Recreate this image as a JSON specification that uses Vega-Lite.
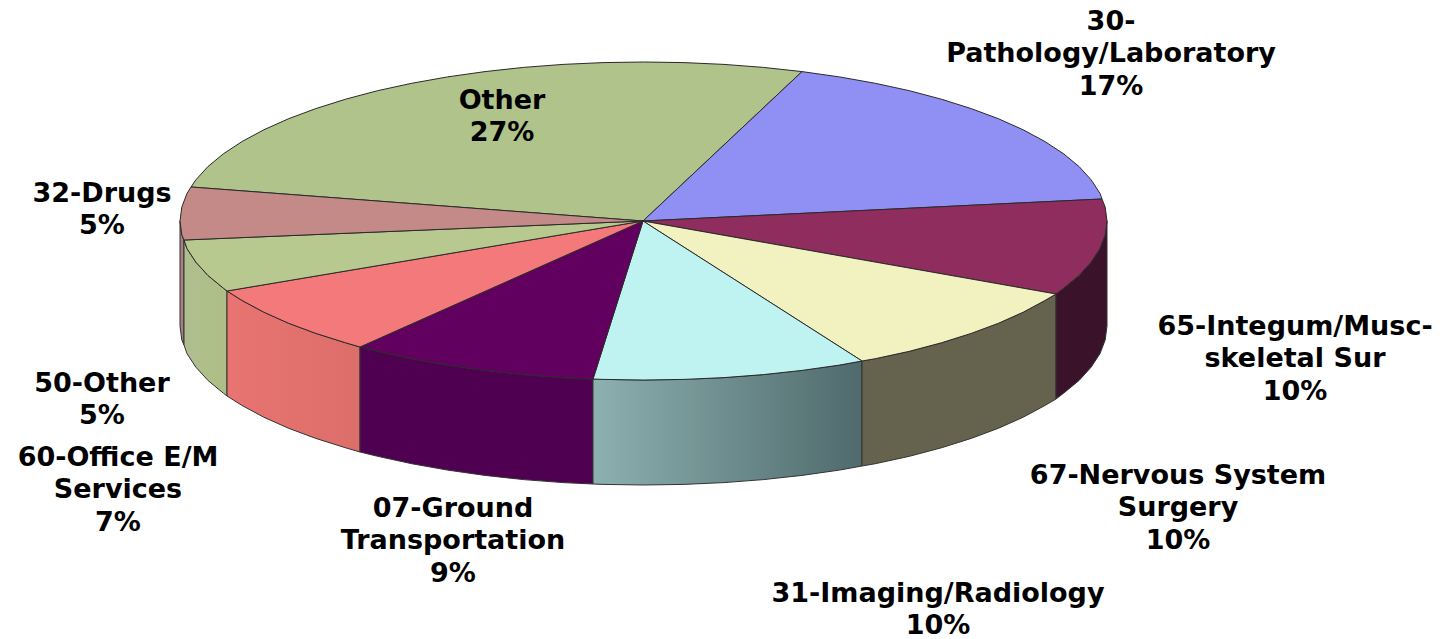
{"$schema":"https://vega.github.io/schema/vega-lite/v6.json","width":1447,"height":639,"padding":0,"autosize":{"type":"fit","contains":"padding"},"background":"white","config":{"view":{"stroke":null}},
"datasets":{
"walls":[
{"slice":"Drugs","x":180,"y":221,"yb":326},{"slice":"Drugs","x":181.8,"y":234.9,"yb":339.9},{"slice":"Drugs","x":184,"y":240,"yb":345},
{"slice":"Other50","x":184,"y":240,"yb":345},{"slice":"Other50","x":187,"y":248.6,"yb":353.6},{"slice":"Other50","x":195.8,"y":262.1,"yb":367.1},{"slice":"Other50","x":207.9,"y":275.4,"yb":380.4},{"slice":"Other50","x":223.4,"y":288.2,"yb":393.2},{"slice":"Other50","x":227,"y":291,"yb":396},
{"slice":"Office","x":227,"y":291,"yb":396},{"slice":"Office","x":242.1,"y":300.5,"yb":405.5},{"slice":"Office","x":263.8,"y":312.2,"yb":417.2},{"slice":"Office","x":288.4,"y":323.2,"yb":428.2},{"slice":"Office","x":315.8,"y":333.4,"yb":438.4},{"slice":"Office","x":345.6,"y":342.8,"yb":447.8},{"slice":"Office","x":360,"y":347,"yb":452},
{"slice":"Ground","x":360,"y":347,"yb":452},{"slice":"Ground","x":377.6,"y":351.3,"yb":456.3},{"slice":"Ground","x":411.7,"y":358.7,"yb":463.7},{"slice":"Ground","x":447.6,"y":365.1,"yb":470.1},{"slice":"Ground","x":485,"y":370.4,"yb":475.4},{"slice":"Ground","x":523.5,"y":374.6,"yb":479.6},{"slice":"Ground","x":563,"y":377.6,"yb":482.6},{"slice":"Ground","x":593,"y":379,"yb":484},
{"slice":"Imaging","x":593,"y":379,"yb":484},{"slice":"Imaging","x":603.1,"y":379.4,"yb":484.4},{"slice":"Imaging","x":643.5,"y":380,"yb":485},{"slice":"Imaging","x":683.9,"y":379.4,"yb":484.4},{"slice":"Imaging","x":724,"y":377.6,"yb":482.6},{"slice":"Imaging","x":763.5,"y":374.6,"yb":479.6},{"slice":"Imaging","x":802,"y":370.4,"yb":475.4},{"slice":"Imaging","x":839.4,"y":365.1,"yb":470.1},{"slice":"Imaging","x":862,"y":361,"yb":466},
{"slice":"Nervous","x":862,"y":361,"yb":466},{"slice":"Nervous","x":875.3,"y":358.7,"yb":463.7},{"slice":"Nervous","x":909.4,"y":351.3,"yb":456.3},{"slice":"Nervous","x":941.4,"y":342.8,"yb":447.8},{"slice":"Nervous","x":971.2,"y":333.4,"yb":438.4},{"slice":"Nervous","x":998.6,"y":323.2,"yb":428.2},{"slice":"Nervous","x":1023.2,"y":312.2,"yb":417.2},{"slice":"Nervous","x":1044.9,"y":300.5,"yb":405.5},{"slice":"Nervous","x":1056,"y":294,"yb":399},
{"slice":"Integum","x":1056,"y":294,"yb":399},{"slice":"Integum","x":1063.6,"y":288.2,"yb":393.2},{"slice":"Integum","x":1079.1,"y":275.4,"yb":380.4},{"slice":"Integum","x":1091.2,"y":262.1,"yb":367.1},{"slice":"Integum","x":1100,"y":248.6,"yb":353.6},{"slice":"Integum","x":1105.2,"y":234.9,"yb":339.9},{"slice":"Integum","x":1107,"y":221,"yb":326}
],
"tops":[
{"slice":"Other","i":0,"x":643,"y":221},{"slice":"Other","i":1,"x":191,"y":187},{"slice":"Other","i":2,"x":195.8,"y":179.9},{"slice":"Other","i":3,"x":207.9,"y":166.6},{"slice":"Other","i":4,"x":223.4,"y":153.8},{"slice":"Other","i":5,"x":242.1,"y":141.5},{"slice":"Other","i":6,"x":263.8,"y":129.8},{"slice":"Other","i":7,"x":288.4,"y":118.8},{"slice":"Other","i":8,"x":315.8,"y":108.6},{"slice":"Other","i":9,"x":345.6,"y":99.2},{"slice":"Other","i":10,"x":377.6,"y":90.7},{"slice":"Other","i":11,"x":411.7,"y":83.3},{"slice":"Other","i":12,"x":447.6,"y":76.9},{"slice":"Other","i":13,"x":485,"y":71.6},{"slice":"Other","i":14,"x":523.5,"y":67.4},{"slice":"Other","i":15,"x":563,"y":64.4},{"slice":"Other","i":16,"x":603.1,"y":62.6},{"slice":"Other","i":17,"x":643.5,"y":62},{"slice":"Other","i":18,"x":683.9,"y":62.6},{"slice":"Other","i":19,"x":724,"y":64.4},{"slice":"Other","i":20,"x":763.5,"y":67.4},{"slice":"Other","i":21,"x":802,"y":71.6},{"slice":"Other","i":22,"x":643,"y":221},
{"slice":"Pathology","i":0,"x":643,"y":221},{"slice":"Pathology","i":1,"x":802,"y":71.6},{"slice":"Pathology","i":2,"x":839.4,"y":76.9},{"slice":"Pathology","i":3,"x":875.3,"y":83.3},{"slice":"Pathology","i":4,"x":909.4,"y":90.7},{"slice":"Pathology","i":5,"x":941.4,"y":99.2},{"slice":"Pathology","i":6,"x":971.2,"y":108.6},{"slice":"Pathology","i":7,"x":998.6,"y":118.8},{"slice":"Pathology","i":8,"x":1023.2,"y":129.8},{"slice":"Pathology","i":9,"x":1044.9,"y":141.5},{"slice":"Pathology","i":10,"x":1063.6,"y":153.8},{"slice":"Pathology","i":11,"x":1079.1,"y":166.6},{"slice":"Pathology","i":12,"x":1091.2,"y":179.9},{"slice":"Pathology","i":13,"x":1100,"y":193.4},{"slice":"Pathology","i":14,"x":1102,"y":199},{"slice":"Pathology","i":15,"x":643,"y":221},
{"slice":"Integum","i":0,"x":643,"y":221},{"slice":"Integum","i":1,"x":1102,"y":199},{"slice":"Integum","i":2,"x":1105.2,"y":207.1},{"slice":"Integum","i":3,"x":1107,"y":221},{"slice":"Integum","i":4,"x":1105.2,"y":234.9},{"slice":"Integum","i":5,"x":1100,"y":248.6},{"slice":"Integum","i":6,"x":1091.2,"y":262.1},{"slice":"Integum","i":7,"x":1079.1,"y":275.4},{"slice":"Integum","i":8,"x":1063.6,"y":288.2},{"slice":"Integum","i":9,"x":1056,"y":294},{"slice":"Integum","i":10,"x":643,"y":221},
{"slice":"Nervous","i":0,"x":643,"y":221},{"slice":"Nervous","i":1,"x":1056,"y":294},{"slice":"Nervous","i":2,"x":1044.9,"y":300.5},{"slice":"Nervous","i":3,"x":1023.2,"y":312.2},{"slice":"Nervous","i":4,"x":998.6,"y":323.2},{"slice":"Nervous","i":5,"x":971.2,"y":333.4},{"slice":"Nervous","i":6,"x":941.4,"y":342.8},{"slice":"Nervous","i":7,"x":909.4,"y":351.3},{"slice":"Nervous","i":8,"x":875.3,"y":358.7},{"slice":"Nervous","i":9,"x":862,"y":361},{"slice":"Nervous","i":10,"x":643,"y":221},
{"slice":"Imaging","i":0,"x":643,"y":221},{"slice":"Imaging","i":1,"x":862,"y":361},{"slice":"Imaging","i":2,"x":839.4,"y":365.1},{"slice":"Imaging","i":3,"x":802,"y":370.4},{"slice":"Imaging","i":4,"x":763.5,"y":374.6},{"slice":"Imaging","i":5,"x":724,"y":377.6},{"slice":"Imaging","i":6,"x":683.9,"y":379.4},{"slice":"Imaging","i":7,"x":643.5,"y":380},{"slice":"Imaging","i":8,"x":603.1,"y":379.4},{"slice":"Imaging","i":9,"x":593,"y":379},{"slice":"Imaging","i":10,"x":643,"y":221},
{"slice":"Ground","i":0,"x":643,"y":221},{"slice":"Ground","i":1,"x":593,"y":379},{"slice":"Ground","i":2,"x":563,"y":377.6},{"slice":"Ground","i":3,"x":523.5,"y":374.6},{"slice":"Ground","i":4,"x":485,"y":370.4},{"slice":"Ground","i":5,"x":447.6,"y":365.1},{"slice":"Ground","i":6,"x":411.7,"y":358.7},{"slice":"Ground","i":7,"x":377.6,"y":351.3},{"slice":"Ground","i":8,"x":360,"y":347},{"slice":"Ground","i":9,"x":643,"y":221},
{"slice":"Office","i":0,"x":643,"y":221},{"slice":"Office","i":1,"x":360,"y":347},{"slice":"Office","i":2,"x":345.6,"y":342.8},{"slice":"Office","i":3,"x":315.8,"y":333.4},{"slice":"Office","i":4,"x":288.4,"y":323.2},{"slice":"Office","i":5,"x":263.8,"y":312.2},{"slice":"Office","i":6,"x":242.1,"y":300.5},{"slice":"Office","i":7,"x":227,"y":291},{"slice":"Office","i":8,"x":643,"y":221},
{"slice":"Other50","i":0,"x":643,"y":221},{"slice":"Other50","i":1,"x":227,"y":291},{"slice":"Other50","i":2,"x":223.4,"y":288.2},{"slice":"Other50","i":3,"x":207.9,"y":275.4},{"slice":"Other50","i":4,"x":195.8,"y":262.1},{"slice":"Other50","i":5,"x":187,"y":248.6},{"slice":"Other50","i":6,"x":184,"y":240},{"slice":"Other50","i":7,"x":643,"y":221},
{"slice":"Drugs","i":0,"x":643,"y":221},{"slice":"Drugs","i":1,"x":184,"y":240},{"slice":"Drugs","i":2,"x":181.8,"y":234.9},{"slice":"Drugs","i":3,"x":180,"y":221},{"slice":"Drugs","i":4,"x":181.8,"y":207.1},{"slice":"Drugs","i":5,"x":187,"y":193.4},{"slice":"Drugs","i":6,"x":191,"y":187},{"slice":"Drugs","i":7,"x":643,"y":221}
],
"labels":[
{"label":"30-\nPathology/Laboratory\n17%","x":1111,"y":8.5},
{"label":"Other\n27%","x":502,"y":87.5},
{"label":"32-Drugs\n5%","x":102,"y":180.5},
{"label":"50-Other\n5%","x":102,"y":370.5},
{"label":"60-Office E/M\nServices\n7%","x":118,"y":444.5},
{"label":"07-Ground\nTransportation\n9%","x":453,"y":495.5},
{"label":"31-Imaging/Radiology\n10%","x":938,"y":580.5},
{"label":"67-Nervous System\nSurgery\n10%","x":1178,"y":462.5},
{"label":"65-Integum/Musc-\nskeletal Sur\n10%","x":1295,"y":313.5}
]},
"encoding":{"x":{"field":"x","type":"quantitative","scale":{"domain":[0,1447]},"axis":null},"y":{"field":"y","type":"quantitative","scale":{"domain":[639,0]},"axis":null}},
"layer":[
{"data":{"name":"walls"},"transform":[{"filter":"datum.slice==='Drugs'"}],"mark":{"type":"area","fill":"#A8807F","stroke":"#333333","strokeWidth":1},"encoding":{"y2":{"field":"yb"}}},
{"data":{"name":"walls"},"transform":[{"filter":"datum.slice==='Other50'"}],"mark":{"type":"area","fill":{"gradient":"linear","x1":0,"x2":1,"y1":0,"y2":0,"stops":[{"offset":0,"color":"#B0BE90"},{"offset":1,"color":"#ACBF86"}]},"stroke":"#333333","strokeWidth":1},"encoding":{"y2":{"field":"yb"}}},
{"data":{"name":"walls"},"transform":[{"filter":"datum.slice==='Office'"}],"mark":{"type":"area","fill":{"gradient":"linear","x1":0,"x2":1,"y1":0,"y2":0,"stops":[{"offset":0,"color":"#E97472"},{"offset":1,"color":"#DC6E6A"}]},"stroke":"#333333","strokeWidth":1},"encoding":{"y2":{"field":"yb"}}},
{"data":{"name":"walls"},"transform":[{"filter":"datum.slice==='Ground'"}],"mark":{"type":"area","fill":"#500050","stroke":"#333333","strokeWidth":1},"encoding":{"y2":{"field":"yb"}}},
{"data":{"name":"walls"},"transform":[{"filter":"datum.slice==='Imaging'"}],"mark":{"type":"area","fill":{"gradient":"linear","x1":0,"x2":1,"y1":0,"y2":0,"stops":[{"offset":0,"color":"#8DB0B0"},{"offset":1,"color":"#4F6A6C"}]},"stroke":"#333333","strokeWidth":1},"encoding":{"y2":{"field":"yb"}}},
{"data":{"name":"walls"},"transform":[{"filter":"datum.slice==='Nervous'"}],"mark":{"type":"area","fill":"#65634E","stroke":"#333333","strokeWidth":1},"encoding":{"y2":{"field":"yb"}}},
{"data":{"name":"walls"},"transform":[{"filter":"datum.slice==='Integum'"}],"mark":{"type":"area","fill":"#3A132A","stroke":"#333333","strokeWidth":1},"encoding":{"y2":{"field":"yb"}}},
{"data":{"name":"tops"},"mark":{"type":"line","filled":true,"stroke":"#2A2A2A","strokeWidth":1},"encoding":{"order":{"field":"i","type":"quantitative"},"detail":{"field":"slice"},"fill":{"field":"slice","type":"nominal","legend":null,"scale":{"domain":["Other","Pathology","Integum","Nervous","Imaging","Ground","Office","Other50","Drugs"],"range":["#AFC38B","#9090F4","#8E2D5E","#F2F1C0","#BFF3F2","#62005F","#F4797A","#B8C98F","#C48A88"]}}}},
{"data":{"name":"labels"},"mark":{"type":"text","font":"DejaVu Sans","fontWeight":"bold","fontSize":27,"lineHeight":32.5,"lineBreak":"\n","align":"center","baseline":"top","color":"#000000"},"encoding":{"text":{"field":"label"}}}
]}
